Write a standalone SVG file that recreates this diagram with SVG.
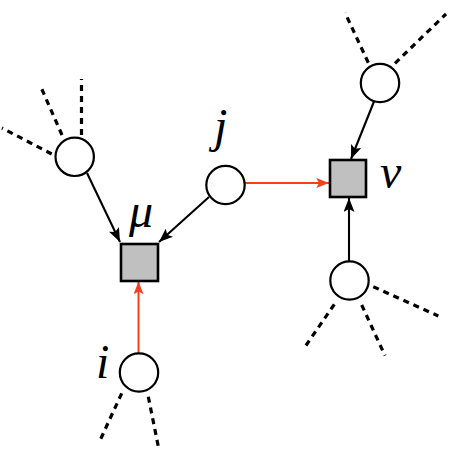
<svg xmlns="http://www.w3.org/2000/svg" width="456" height="459" viewBox="0 0 456 459">
<style>
.var{fill:#fff;stroke:#000;stroke-width:2.2}
.fac{fill:#c0c0c0;stroke:#000;stroke-width:2.6}
.dash{stroke:#000;stroke-width:3.2;stroke-dasharray:6 5;fill:none}
.edge{stroke:#000;stroke-width:2.1;fill:none}
.red{stroke:#f5401f;stroke-width:2;fill:none}
.lbl{font-family:"Liberation Serif","DejaVu Serif",serif;font-style:italic;font-size:48px;fill:#000}
</style>
<defs>
<marker id="ab" viewBox="0 0 14 11" refX="14" refY="5.5" markerWidth="14" markerHeight="11" markerUnits="userSpaceOnUse" orient="auto">
<path d="M0,0 L14,5.5 L0,11 L3,5.5 Z" fill="#000"/>
</marker>
<marker id="ar" viewBox="0 0 14 11" refX="14" refY="5.5" markerWidth="13" markerHeight="10" markerUnits="userSpaceOnUse" orient="auto">
<path d="M0,0 L14,5.5 L0,11 L3,5.5 Z" fill="#f5401f"/>
</marker>
</defs>
<g id="connectors">
<line class="dash" x1="51.7" y1="154" x2="2" y2="128"/>
<line class="dash" x1="62" y1="135" x2="40" y2="85"/>
<line class="dash" x1="81.5" y1="135" x2="81.5" y2="79"/>
<line class="dash" x1="368.3" y1="62.7" x2="345" y2="12.7"/>
<line class="dash" x1="395" y1="63.3" x2="446" y2="14"/>
<line class="dash" x1="373.3" y1="286.7" x2="438.3" y2="316"/>
<line class="dash" x1="334.3" y1="304.3" x2="303.3" y2="349.3"/>
<line class="dash" x1="361.7" y1="305" x2="385" y2="355.7"/>
<line class="dash" x1="121.7" y1="393.3" x2="99" y2="442.7"/>
<line class="dash" x1="148.3" y1="396.7" x2="159" y2="450"/>
<line class="edge" x1="87" y1="173" x2="120" y2="242" marker-end="url(#ab)"/>
<line class="edge" x1="209" y1="197" x2="159" y2="242" marker-end="url(#ab)"/>
<line class="edge" x1="374" y1="101.5" x2="351" y2="159" marker-end="url(#ab)"/>
<line class="edge" x1="349" y1="261.5" x2="349" y2="198" marker-end="url(#ab)"/>
<line class="red" x1="245" y1="183" x2="329" y2="183" marker-end="url(#ar)"/>
<line class="red" x1="138.5" y1="353.5" x2="138.5" y2="281.5" marker-end="url(#ar)"/>
</g>
<g id="node-a"><circle class="var" cx="74.7" cy="156.8" r="19.2"/></g>
<g id="node-j"><circle class="var" cx="225.5" cy="185" r="19.2"/><text class="lbl" x="214" y="142">j</text></g>
<g id="node-b"><circle class="var" cx="380" cy="83" r="19.2"/></g>
<g id="node-c"><circle class="var" cx="349.5" cy="280.5" r="19.2"/></g>
<g id="node-i"><circle class="var" cx="139" cy="372.5" r="19.2"/><text class="lbl" x="96" y="378">i</text></g>
<g id="factor-mu"><rect class="fac" x="121" y="244" width="37" height="37"/><text class="lbl" x="129" y="227">μ</text></g>
<g id="factor-nu"><rect class="fac" x="330" y="160" width="36" height="37"/><text class="lbl" x="380" y="188">ν</text></g>
</svg>
